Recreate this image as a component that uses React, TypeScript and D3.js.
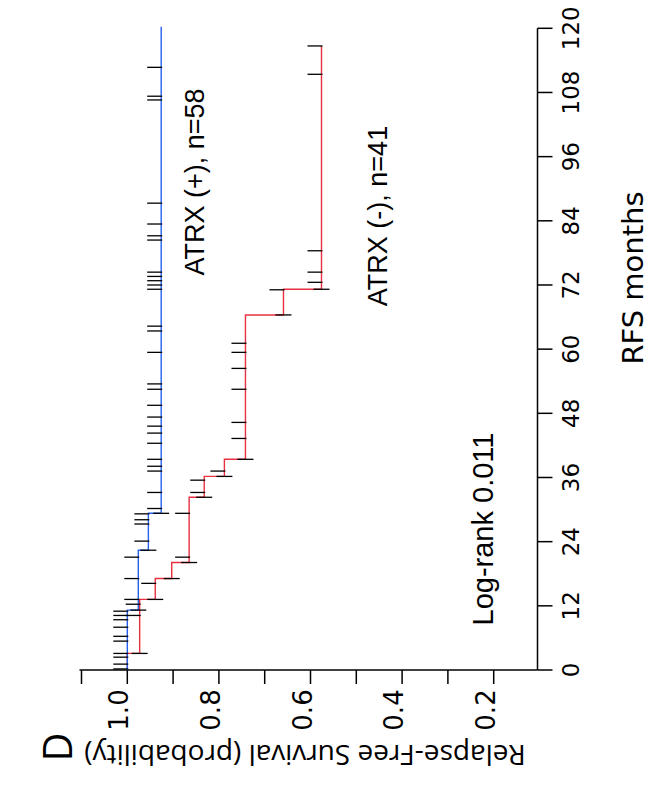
import React from 'react';
import * as d3 from 'd3';

// ---- data ----
const monthTicks = [0, 12, 24, 36, 48, 60, 72, 84, 96, 108, 120];
const survTicks = [1.1, 1.0, 0.9, 0.8, 0.7, 0.6, 0.5, 0.4, 0.3, 0.2];
const survLabels = [1.0, 0.8, 0.6, 0.4, 0.2];

// ATRX (+), n=58  (blue)
const posEventTimes = [11.2, 22.4, 29.3];
const posEventSurv = [0.976, 0.954, 0.926];
const posEnd = 120.3;
const posCensor = [0.2, 1.1, 2.4, 3.1, 5.4, 6.3, 8.0, 9.4, 10.2, 11.0,
  13.2, 17.1, 21.1,
  24.1, 27.3, 28.1, 29.2,
  30.2, 33.2, 37.2, 38.1, 39.4, 42.4, 44.3, 45.6, 47.3, 49.5, 52.5, 53.5,
  59.4, 63.4, 64.3, 71.2, 72.0, 72.8, 73.6, 74.4, 80.4, 81.2, 83.4, 87.3,
  106.6, 107.3, 112.7];

// ATRX (-), n=41  (red)
const negEventTimes = [3.1, 13.2, 17.1, 20.1, 32.3, 36.2, 39.4, 66.4, 71.2];
const negEventSurv = [0.973, 0.939, 0.903, 0.865, 0.832, 0.788, 0.742, 0.659, 0.576];
const negEnd = 116.7;
const negCensor = [10.2, 12.3, 16.2, 21.1, 29.3, 33.2, 35.5, 37.2,
  43.3, 46.3, 52.5, 56.4, 59.4, 61.1, 71.1, 72.5, 74.4, 78.4, 111.4, 116.7];

const W = 651, H = 787;

const tScale = d3.scaleLinear().domain([0, 120]).range([670, 28.3]);
const sScale = d3.scaleLinear().domain([1.1, 0.1]).range([81.5, 539.5]);

function stepPoints(times: number[], surv: number[], end: number): [number, number][] {
  const pts: [number, number][] = [[0, 1]];
  let prev = 1;
  times.forEach((t, i) => {
    pts.push([t, prev]);
    pts.push([t, surv[i]]);
    prev = surv[i];
  });
  pts.push([end, prev]);
  return pts;
}

function survAt(times: number[], surv: number[], t: number) {
  let s = 1;
  times.forEach((et, i) => { if (et <= t) s = surv[i]; });
  return s;
}

const line = d3.line<[number, number]>()
  .x(d => sScale(d[1]))
  .y(d => tScale(d[0]));

function Curve({ times, surv, end, color }: any) {
  const pts = stepPoints(times, surv, end);
  return (
    <path d={line(pts) || ''} fill="none" stroke={color} strokeWidth={1.4} />
  );
}

function Ticks({ times, surv, censor }: any) {
  return (
    <g stroke="#000" strokeWidth={1.3}>
      {censor.map((t: number, i: number) => {
        const s = survAt(times, surv, t);
        const x = sScale(s);
        const y = tScale(t);
        return <line key={'c' + i} x1={x - 14} x2={x + 1} y1={y} y2={y} />;
      })}
      {times.map((t: number, i: number) => {
        const x = sScale(surv[i]);
        const y = tScale(t);
        return <line key={'e' + i} x1={x - 8} x2={x + 8} y1={y} y2={y} />;
      })}
    </g>
  );
}

export default function App() {
  const axisY = tScale(0);
  const axisX = sScale(0.1) - 2;
  return (
    <div style={{ position: 'absolute', left: 0, top: 0 }}>
      <svg width={W} height={H} style={{ display: 'block', background: '#fff' }}>
        <rect width={W} height={H} fill="#fff" />
        {/* survival axis (bottom) */}
        <line x1={sScale(1.1) - 2} x2={axisX} y1={axisY} y2={axisY} stroke="#000" strokeWidth={1.5} />
        {survTicks.map(v => (
          <line key={v} x1={sScale(v)} x2={sScale(v)} y1={axisY} y2={axisY + 14} stroke="#000" strokeWidth={1.5} />
        ))}
        {survLabels.map(v => (
          <text key={v} transform={`translate(${sScale(v) + 1},710) rotate(-90)`} textAnchor="middle"
            fontFamily="DejaVu Sans" fontSize={26} fill="#000">{v.toFixed(1)}</text>
        ))}
        {/* months axis (right) */}
        <line x1={axisX} x2={axisX} y1={tScale(120)} y2={axisY} stroke="#000" strokeWidth={1.5} />
        {monthTicks.map(m => (
          <line key={m} x1={axisX} x2={axisX + 15} y1={tScale(m)} y2={tScale(m)} stroke="#000" strokeWidth={1.5} />
        ))}
        {monthTicks.map(m => (
          <text key={m} transform={`translate(579,${tScale(m)}) rotate(-90)`} textAnchor="middle"
            fontFamily="DejaVu Sans" fontSize={23} fill="#000">{m}</text>
        ))}
        <text transform="translate(643,278) rotate(-90)" textAnchor="middle" fontFamily="DejaVu Sans" fontSize={29} fill="#000">RFS months</text>
        <text transform="translate(305,745) rotate(180)" textAnchor="middle" fontFamily="Open Sans" fontSize={28} fill="#000">Relapse-Free Survival (probability)</text>
        <text transform="translate(72,747) rotate(-90)" textAnchor="middle" fontFamily="Open Sans" fontSize={40} fill="#000">D</text>

        {/* curves */}
        <Curve times={negEventTimes} surv={negEventSurv} end={negEnd} color="#e8303f" />
        <Curve times={posEventTimes} surv={posEventSurv} end={posEnd} color="#2462ee" />
        <Ticks times={negEventTimes} surv={negEventSurv} censor={negCensor} />
        <Ticks times={posEventTimes} surv={posEventSurv} censor={posCensor} />

        {/* annotations */}
        <text transform="translate(204,182) rotate(-90)" textAnchor="middle" fontFamily="Liberation Sans" fontSize={27} fill="#000">ATRX (+), n=58</text>
        <text transform="translate(387,216) rotate(-90)" textAnchor="middle" fontFamily="Liberation Sans" fontSize={27} fill="#000">ATRX (-), n=41</text>
        <text transform="translate(493,529) rotate(-90)" textAnchor="middle" fontFamily="Liberation Sans" fontSize={29} fill="#000">Log-rank 0.011</text>
      </svg>
    </div>
  );
}
